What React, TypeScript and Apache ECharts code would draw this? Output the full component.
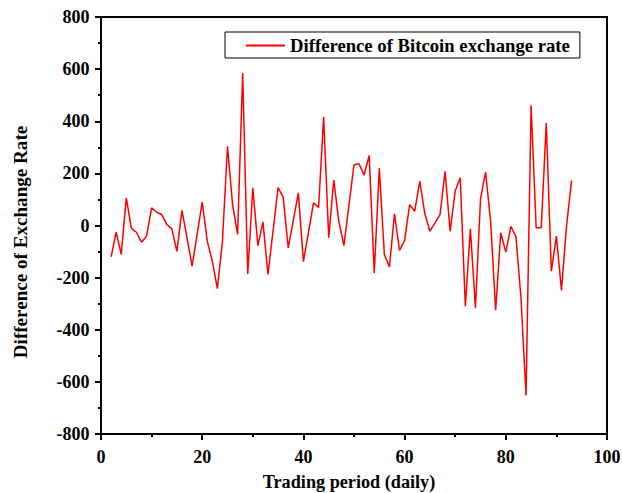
import React, { useEffect, useRef } from "react";
import * as echarts from "echarts";

// Trading day index and the day-to-day change of the Bitcoin exchange rate
const days: number[] = [
  2, 3, 4, 5, 6, 7, 8, 9, 10, 11, 12, 13, 14, 15, 16, 17, 18, 19, 20, 21, 22, 23, 24, 25, 26, 27, 28, 29, 30, 31,
  32, 33, 34, 35, 36, 37, 38, 39, 40, 41, 42, 43, 44, 45, 46, 47, 48, 49, 50, 51, 52, 53, 54, 55, 56, 57, 58, 59,
  60, 61, 62, 63, 64, 65, 66, 67, 68, 69, 70, 71, 72, 73, 74, 75, 76, 77, 78, 79, 80, 81, 82, 83, 84, 85, 86, 87,
  88, 89, 90, 91, 92, 93,
];

const rateDiff: number[] = [
  -120, -26, -111, 106, -11, -26, -64, -41, 68, 51, 42, 4, -13, -99, 58, -47, -156, -33, 90, -60, -137, -242, -60,
  304, 80, -34, 585, -186, 145, -77, 14, -188, -21, 145, 109, -86, 20, 125, -139, -26, 87, 69, 417, -47, 174, 17,
  -77, 78, 233, 237, 193, 269, -182, 220, -111, -159, 45, -96, -58, 80, 55, 170, 45, -22, 10, 42, 208, -22, 132,
  183, -310, -13, -316, 102, 205, 17, -325, -28, -102, -3, -43, -277, -652, 461, -9, -9, 393, -175, -41, -249, -3,
  173,
];

// Tick label values for both axes
const xTicks: number[] = [0, 20, 40, 60, 80, 100];
const yTicks: number[] = [-800, -600, -400, -200, 0, 200, 400, 600, 800];

const seriesName = "Difference of Bitcoin exchange rate";
const xAxisTitle = "Trading period (daily)";
const yAxisTitle = "Difference of Exchange Rate";

const FONT = "Liberation Serif";
const TICK_FONT = `bold 18px "${FONT}"`;

export default function App() {
  const ref = useRef<HTMLDivElement>(null);

  useEffect(() => {
    if (!ref.current) return;
    const chart = echarts.init(ref.current, undefined, { renderer: "svg" });

    const axisLine = { show: true, onZero: false, lineStyle: { color: "#000", width: 2 } };
    const axisTick = { show: true, length: 6, lineStyle: { color: "#000", width: 2 } };
    const minorTick = { show: true, splitNumber: 2, length: 3, lineStyle: { color: "#000", width: 2 } };

    chart.setOption({
      animation: false,
      backgroundColor: "#fff",
      textStyle: { fontFamily: FONT, fontWeight: "bold", color: "#000" },
      grid: {
        left: 101,
        right: 15,
        top: 17,
        bottom: 59,
        show: true,
        borderColor: "#000",
        borderWidth: 2,
      },
      legend: {
        show: true,
        left: 225,
        top: 32,
        orient: "horizontal",
        borderColor: "#000",
        borderWidth: 1,
        borderRadius: 0,
        padding: [4, 10, 3, 21],
        icon: "rect",
        itemWidth: 39,
        itemHeight: 2,
        textStyle: { fontFamily: FONT, fontWeight: "bold", fontSize: 18.7, color: "#000" },
        data: [{ name: seriesName }],
      },
      xAxis: {
        type: "value",
        min: 0,
        max: 100,
        interval: 20,
        axisLine,
        axisTick,
        minorTick,
        splitLine: { show: false },
        axisLabel: { show: false },
      },
      yAxis: {
        type: "value",
        min: -800,
        max: 800,
        interval: 200,
        axisLine,
        axisTick,
        minorTick,
        splitLine: { show: false },
        axisLabel: { show: false },
      },
      series: [
        {
          name: seriesName,
          type: "line",
          data: days.map((d, i) => [d, rateDiff[i]]),
          symbol: "none",
          showSymbol: false,
          lineStyle: { color: "#ff0000", width: 1.5 },
          itemStyle: { color: "#ff0000" },
        },
      ],
    });

    // Tick labels placed at the axis scale positions
    const xLabels = xTicks.map((v) => {
      const [px, py] = chart.convertToPixel({ gridIndex: 0 }, [v, -800]) as number[];
      return {
        type: "text",
        x: px,
        y: py + 23,
        style: {
          text: String(v),
          fill: "#000",
          font: TICK_FONT,
          textAlign: "center",
          textVerticalAlign: "middle",
        },
      };
    });
    const yLabels = yTicks.map((v) => {
      const [px, py] = chart.convertToPixel({ gridIndex: 0 }, [0, v]) as number[];
      return {
        type: "text",
        x: px - 11.5,
        y: py,
        style: {
          text: String(v),
          fill: "#000",
          font: TICK_FONT,
          textAlign: "right",
          textVerticalAlign: "middle",
        },
      };
    });

    chart.setOption({
      graphic: [
        ...xLabels,
        ...yLabels,
        {
          type: "text",
          x: 349,
          y: 482,
          style: {
            text: xAxisTitle,
            fill: "#000",
            font: `bold 18.2px "${FONT}"`,
            textAlign: "center",
            textVerticalAlign: "middle",
          },
        },
        {
          type: "text",
          x: 20,
          y: 242,
          rotation: Math.PI / 2,
          style: {
            text: yAxisTitle,
            fill: "#000",
            font: `bold 19.1px "${FONT}"`,
            textAlign: "center",
            textVerticalAlign: "middle",
          },
        },
      ],
    });

    return () => chart.dispose();
  }, []);

  return (
    <div
      ref={ref}
      style={{ position: "fixed", left: 0, top: 0, width: 622, height: 493, background: "#fff" }}
    />
  );
}
